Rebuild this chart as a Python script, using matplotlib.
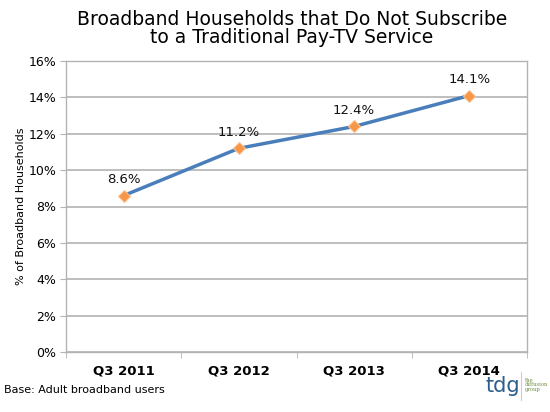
import matplotlib.pyplot as plt
from matplotlib.ticker import FuncFormatter

quarters = ["Q3 2011", "Q3 2012", "Q3 2013", "Q3 2014"]
pct_no_paytv = [8.6, 11.2, 12.4, 14.1]
y_ticks = [0, 2, 4, 6, 8, 10, 12, 14, 16]

grid_gray = "#b3b3b3"

fig = plt.figure(figsize=(5.5, 4.12), dpi=100)
ax = fig.add_axes([66 / 550, 1 - 352 / 412, (527 - 66) / 550, (352 - 61) / 412])

x = list(range(len(quarters)))
ax.plot(x, pct_no_paytv, color="#4A7EBB", lw=2.5, zorder=3,
        marker="D", ms=6.5, mfc="#F79646", mec="#FAC090", mew=0.8)

# data labels above each point
for xi, v in zip(x, pct_no_paytv):
    ax.annotate(f"{v}%", (xi, v), xytext=(0, 7), textcoords="offset points",
                ha="center", va="bottom", fontsize=9.5, color="#111111")

ax.set_xlim(-0.5, len(quarters) - 0.5)
ax.set_ylim(0, 16)
ax.set_yticks(y_ticks)
ax.yaxis.set_major_formatter(FuncFormatter(lambda v, p: f"{v:.0f}%"))
ax.set_xticks(x)
ax.set_xticklabels(quarters, fontsize=9.5, fontweight="bold")
ax.set_xticks([i - 0.5 for i in range(len(quarters) + 1)], minor=True)
ax.tick_params(axis="x", which="major", length=0, pad=9)
ax.tick_params(axis="x", which="minor", length=4, color=grid_gray, direction="out")
ax.tick_params(axis="y", length=4, color=grid_gray, labelsize=9, pad=3)

ax.grid(axis="y", color=grid_gray, lw=1.2)
ax.set_axisbelow(True)
for s in ax.spines.values():
    s.set_color(grid_gray)
    s.set_linewidth(1.0)

ax.set_ylabel("% of Broadband Households", fontsize=8, labelpad=2)

fig.text(292 / 550, 1 - 28.5 / 412, "Broadband Households that Do Not Subscribe\nto a Traditional Pay-TV Service",
         ha="center", va="center", fontsize=13.5, linespacing=0.9)
fig.text(4 / 550, 1 - 390 / 412, "Base: Adult broadband users", fontsize=8, va="center")

# tdg logo
fig.text(503 / 550, 1 - 386 / 412, "tdg", fontsize=15, color="#2E5E8C", ha="center", va="center")
fig.lines.append(plt.Line2D([521 / 550, 521 / 550], [1 - 400 / 412, 1 - 372 / 412],
                            transform=fig.transFigure, color="#cccccc", lw=0.8))
fig.text(525 / 550, 1 - 385 / 412, "the\ndiffusion\ngroup", fontsize=3.8, color="#6B8E3D",
         family="DejaVu Serif", va="center", ha="left", linespacing=1.0)

fig.savefig("out.png", dpi=100)
